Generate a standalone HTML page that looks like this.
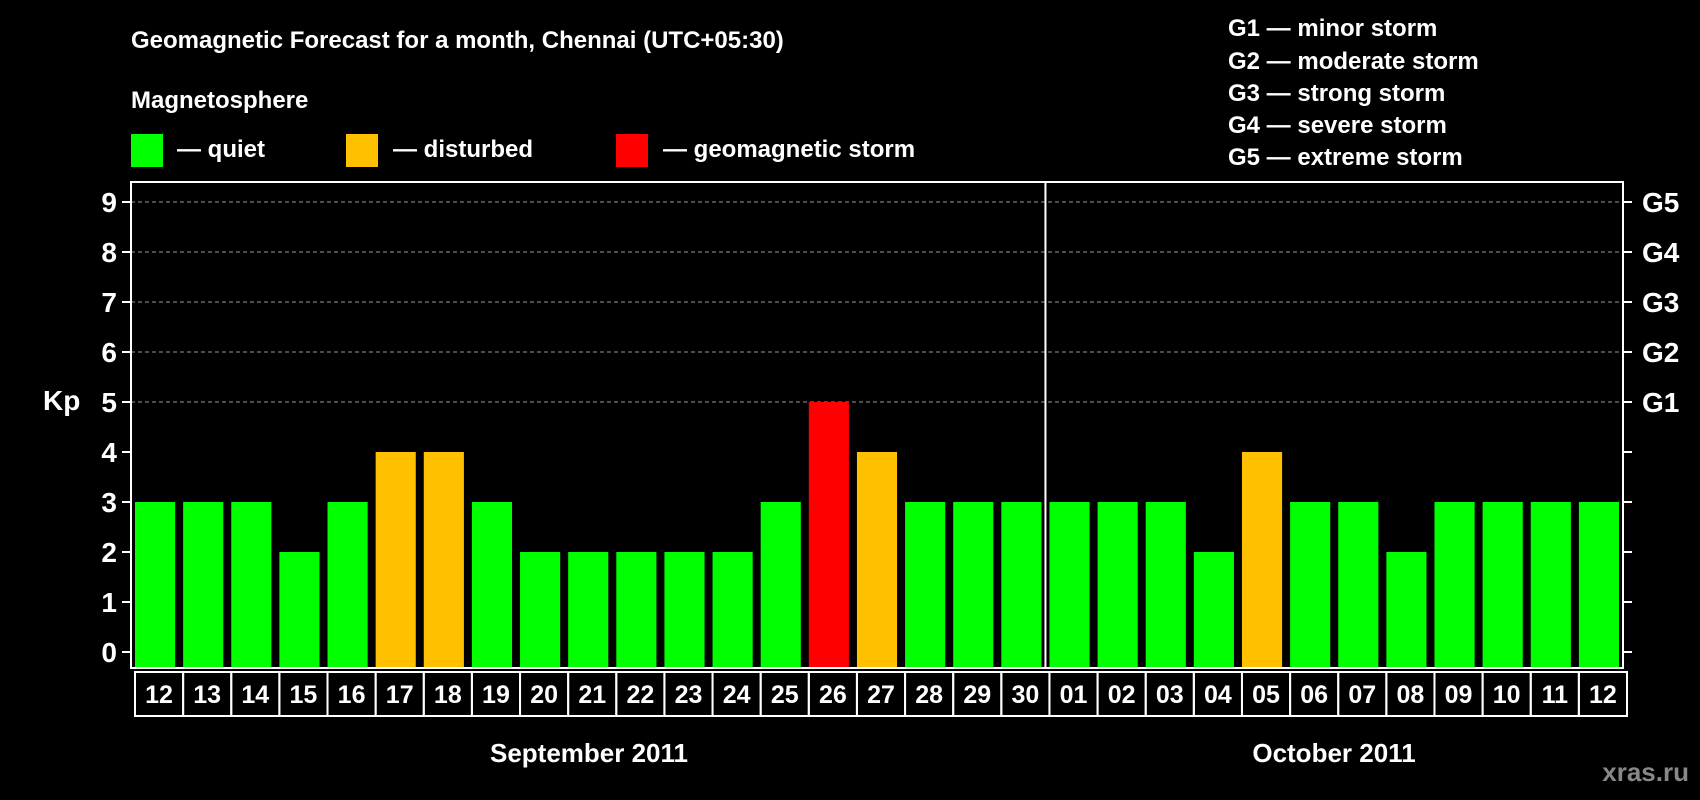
<!DOCTYPE html>
<html><head><meta charset="utf-8"><style>
body{margin:0;background:#000;width:1700px;height:800px;overflow:hidden}
svg{display:block;font-family:"Liberation Sans",Arial,sans-serif;font-weight:bold}
</style></head><body>
<svg id="chart" width="1700" height="800" xmlns="http://www.w3.org/2000/svg">
<rect width="1700" height="800" fill="#000"/>
<text x="131" y="48" fill="#fff" font-size="24">Geomagnetic Forecast for a month, Chennai (UTC+05:30)</text>
<text x="131" y="108" fill="#fff" font-size="24">Magnetosphere</text>
<rect x="131" y="134" width="32" height="33" fill="#00ff00"/>
<text x="177" y="157" fill="#fff" font-size="24">— quiet</text>
<rect x="346" y="134" width="32" height="33" fill="#ffc000"/>
<text x="393" y="157" fill="#fff" font-size="24">— disturbed</text>
<rect x="616" y="134" width="32" height="33" fill="#ff0000"/>
<text x="663" y="157" fill="#fff" font-size="24">— geomagnetic storm</text>
<g font-size="24" fill="#fff">
<text x="1228" y="36">G1 — minor storm</text>
<text x="1228" y="69">G2 — moderate storm</text>
<text x="1228" y="101">G3 — strong storm</text>
<text x="1228" y="133">G4 — severe storm</text>
<text x="1228" y="165">G5 — extreme storm</text>
</g>
<text x="43" y="410" fill="#fff" font-size="28">Kp</text>
<text x="1689" y="781" fill="#888" font-size="26" text-anchor="end">xras.ru</text>
<text x="589" y="762" fill="#fff" font-size="26" text-anchor="middle">September 2011</text>
<text x="1334" y="762" fill="#fff" font-size="26" text-anchor="middle">October 2011</text>
<g id="plot"></g>
</svg>
<script>
const days=["12","13","14","15","16","17","18","19","20","21","22","23","24","25","26","27","28","29","30","01","02","03","04","05","06","07","08","09","10","11","12"];
const kpValues=[3,3,3,2,3,4,4,3,2,2,2,2,2,3,5,4,3,3,3,3,3,3,2,4,3,3,2,3,3,3,3];
const yTicks=[0,1,2,3,4,5,6,7,8,9];
const gLabels=["G1","G2","G3","G4","G5"];
const gLevels=[5,6,7,8,9];
const monthSplit=19;

const NS="http://www.w3.org/2000/svg";
const L=131,R=1623,T=182,B=668;
const step=(R-L)/days.length;
const xs=i=>L+i*step;
const ys=v=>652-v*50;
const g=document.getElementById('plot');
function mk(tag,a){const e=document.createElementNS(NS,tag);for(const k in a)e.setAttribute(k,a[k]);g.appendChild(e);return e;}
// gridlines
gLevels.forEach(v=>{
 const l=mk('line',{x1:L,x2:R,y1:ys(v),y2:ys(v),stroke:'#999','stroke-width':1,'stroke-dasharray':'4,3'});
 
 
});
// bars
kpValues.forEach((v,i)=>{
 const c=v>=5?'#ff0000':(v>=4?'#ffc000':'#00ff00');
 const r=mk('rect',{x:xs(i)+4,y:ys(v),width:step-8,height:B-ys(v),fill:c});
 
 
});
// frame
const f=mk('rect',{x:L,y:T,width:R-L,height:B-T,fill:'none',stroke:'#fff','stroke-width':2});


const d=mk('line',{x1:xs(monthSplit),x2:xs(monthSplit),y1:T,y2:B,stroke:'#fff','stroke-width':2});


// y ticks
yTicks.forEach(v=>{
 const t1=mk('line',{x1:L-9,x2:L,y1:ys(v),y2:ys(v),stroke:'#fff','stroke-width':2});
 
 
 const t2=mk('line',{x1:R,x2:R+9,y1:ys(v),y2:ys(v),stroke:'#fff','stroke-width':2});
 
 
 const tx=mk('text',{x:L-14,y:ys(v)+10,fill:'#fff','font-size':28,'text-anchor':'end'});
 tx.textContent=v;
 
 
});
gLabels.forEach((s,i)=>{
 const tx=mk('text',{x:R+19,y:ys(gLevels[i])+10,fill:'#fff','font-size':28});
 tx.textContent=s;
 
 
});
// date boxes
days.forEach((s,i)=>{
 const r=mk('rect',{x:xs(i)+4,y:B+4,width:step,height:44,fill:'none',stroke:'#fff','stroke-width':2});
 
 
 const tx=mk('text',{x:xs(i)+4+step/2,y:B+35,fill:'#fff','font-size':25,'text-anchor':'middle'});
 tx.textContent=s;
 
 
});
</script>
</body></html>
